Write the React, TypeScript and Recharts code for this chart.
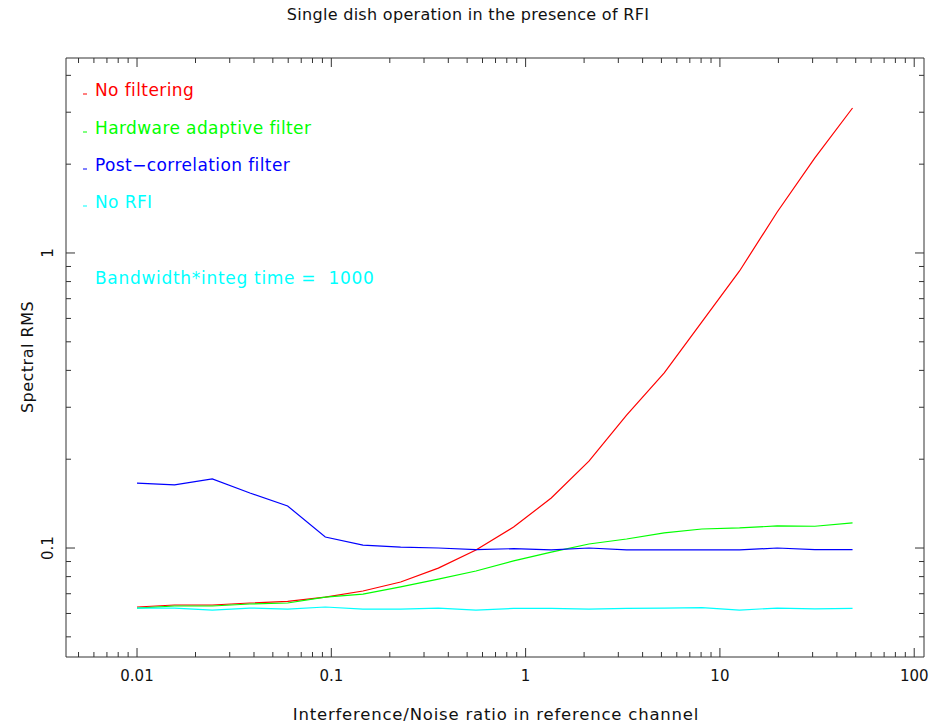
import { Line, LineChart, XAxis, YAxis } from "recharts";

const FONT = "'DejaVu Sans', sans-serif";
const AXIS = "#333";

// interference/noise ratio, one point per step
const ratio = [0.01, 0.0156, 0.0244, 0.0381, 0.0596, 0.0931, 0.1455, 0.2274, 0.3553, 0.5551, 0.8674, 1.355, 2.118, 3.309, 5.17, 8.078, 12.62, 19.72, 30.81, 48.15];
const noFiltering = [0.0631, 0.0641, 0.0641, 0.0651, 0.0659, 0.0682, 0.0715, 0.0767, 0.0855, 0.0985, 0.1178, 0.1477, 0.197, 0.282, 0.392, 0.584, 0.869, 1.377, 2.1, 3.1];
const hardwareFilter = [0.0626, 0.0636, 0.0636, 0.0646, 0.0651, 0.0682, 0.0698, 0.0738, 0.0785, 0.0836, 0.0904, 0.0969, 0.1032, 0.1073, 0.1125, 0.116, 0.117, 0.1188, 0.1185, 0.1216];
const postCorrelation = [0.166, 0.1636, 0.1714, 0.1536, 0.1388, 0.109, 0.1023, 0.1007, 0.1, 0.0988, 0.0995, 0.0985, 0.1, 0.0985, 0.0985, 0.0985, 0.0985, 0.1, 0.0988, 0.0988];
const noRfi = [0.0626, 0.0626, 0.0616, 0.0626, 0.0621, 0.0631, 0.0621, 0.0621, 0.0626, 0.0616, 0.0624, 0.0624, 0.0621, 0.0624, 0.0626, 0.0628, 0.0616, 0.0626, 0.0622, 0.0624];

const xTicks = [
  0.005, 0.006, 0.007, 0.008, 0.009,
  0.01, 0.02, 0.03, 0.04, 0.05, 0.06, 0.07, 0.08, 0.09,
  0.1, 0.2, 0.3, 0.4, 0.5, 0.6, 0.7, 0.8, 0.9,
  1, 2, 3, 4, 5, 6, 7, 8, 9,
  10, 20, 30, 40, 50, 60, 70, 80, 90,
  100,
];
const yTicks = [0.05, 0.06, 0.07, 0.08, 0.09, 0.1, 0.2, 0.3, 0.4, 0.5, 0.6, 0.7, 0.8, 0.9, 1, 2, 3, 4];

const legend = [
  { label: "No filtering", color: "#ff0000", y: 96 },
  { label: "Hardware adaptive filter", color: "#00ff00", y: 134 },
  { label: "Post\u2212correlation filter", color: "#0000ff", y: 171 },
  { label: "No RFI", color: "#00ffff", y: 208 },
];

const data = ratio.map((x, i) => ({
  x,
  noFiltering: noFiltering[i],
  hardwareFilter: hardwareFilter[i],
  postCorrelation: postCorrelation[i],
  noRfi: noRfi[i],
}));

function isMajor(v: number) {
  const l = Math.log10(v);
  return Math.abs(l - Math.round(l)) < 1e-6;
}

function BottomTick({ x, y, payload }: any) {
  const major = isMajor(payload.value);
  return (
    <g>
      <line x1={x} y1={y} x2={x} y2={y - (major ? 9 : 5)} stroke={AXIS} />
      {major && (
        <text x={x} y={y + 24} textAnchor="middle" fontSize={15} fontFamily={FONT} fill="#111">
          {String(payload.value)}
        </text>
      )}
    </g>
  );
}

function TopTick({ x, y, payload }: any) {
  const major = isMajor(payload.value);
  return <line x1={x} y1={y} x2={x} y2={y + (major ? 9 : 5)} stroke={AXIS} />;
}

function LeftTick({ x, y, payload }: any) {
  const major = isMajor(payload.value);
  return (
    <g>
      <line x1={x} y1={y} x2={x + (major ? 9 : 5)} y2={y} stroke={AXIS} />
      {major && (
        <text
          x={x - 13}
          y={y}
          transform={`rotate(-90 ${x - 13} ${y})`}
          textAnchor="middle"
          fontSize={15}
          fontFamily={FONT}
          fill="#111"
        >
          {String(payload.value)}
        </text>
      )}
    </g>
  );
}

function RightTick({ x, y, payload }: any) {
  const major = isMajor(payload.value);
  return <line x1={x} y1={y} x2={x - (major ? 9 : 5)} y2={y} stroke={AXIS} />;
}

export default function App() {
  return (
    <div style={{ position: "absolute", left: 0, top: 0, background: "#fff" }}>
      <LineChart width={936} height={726} data={data} margin={{ top: 57, right: 11, bottom: 0, left: 0 }}>
        <XAxis
          dataKey="x"
          type="number"
          scale="log"
          domain={[0.00431, 112.3]}
          allowDataOverflow
          ticks={xTicks}
          interval={0}
          height={69}
          tickSize={0}
          tickMargin={0}
          tickLine={false}
          axisLine={{ stroke: AXIS }}
          tick={<BottomTick />}
        />
        <XAxis
          xAxisId="top"
          orientation="top"
          dataKey="x"
          type="number"
          scale="log"
          domain={[0.00431, 112.3]}
          allowDataOverflow
          ticks={xTicks}
          interval={0}
          height={1}
          tickSize={0}
          tickMargin={0}
          tickLine={false}
          axisLine={{ stroke: AXIS }}
          tick={<TopTick />}
        />
        <YAxis
          type="number"
          scale="log"
          domain={[0.04272, 4.58]}
          allowDataOverflow
          ticks={yTicks}
          interval={0}
          width={66}
          tickSize={0}
          tickMargin={0}
          tickLine={false}
          axisLine={{ stroke: AXIS }}
          tick={<LeftTick />}
        />
        <YAxis
          yAxisId="right"
          orientation="right"
          type="number"
          scale="log"
          domain={[0.04272, 4.58]}
          allowDataOverflow
          ticks={yTicks}
          interval={0}
          width={1}
          tickSize={0}
          tickMargin={0}
          tickLine={false}
          axisLine={{ stroke: AXIS }}
          tick={<RightTick />}
        />
        <Line type="linear" dataKey="noFiltering" stroke="#ff0000" strokeWidth={1.2} dot={false} isAnimationActive={false} />
        <Line type="linear" dataKey="hardwareFilter" stroke="#00ff00" strokeWidth={1.2} dot={false} isAnimationActive={false} />
        <Line type="linear" dataKey="postCorrelation" stroke="#0000ff" strokeWidth={1.2} dot={false} isAnimationActive={false} />
        <Line type="linear" dataKey="noRfi" stroke="#00ffff" strokeWidth={1.2} dot={false} isAnimationActive={false} />

        <text x={468} y={20} textAnchor="middle" fontSize={16} fontFamily={FONT} fill="#111" letterSpacing={0.3}>
          Single dish operation in the presence of RFI
        </text>
        <text x={496} y={720} textAnchor="middle" fontSize={16.5} fontFamily={FONT} fill="#111" letterSpacing={0.8}>
          Interference/Noise ratio in reference channel
        </text>
        <text x={33} y={357} transform="rotate(-90 33 357)" textAnchor="middle" fontSize={16} fontFamily={FONT} fill="#111" letterSpacing={0.5}>
          Spectral RMS
        </text>
        {legend.map((item) => (
          <g key={item.label}>
            <line x1={83} x2={87} y1={item.y - 2} y2={item.y - 2} stroke={item.color} />
            <text x={95} y={item.y} fontSize={17} fontFamily={FONT} fill={item.color} letterSpacing={0.4}>
              {item.label}
            </text>
          </g>
        ))}
        <text x={95} y={284} fontSize={17} fontFamily={FONT} fill="#00ffff" letterSpacing={0.7} style={{ whiteSpace: "pre" }}>
          {"Bandwidth*integ time =  1000"}
        </text>
      </LineChart>
    </div>
  );
}
